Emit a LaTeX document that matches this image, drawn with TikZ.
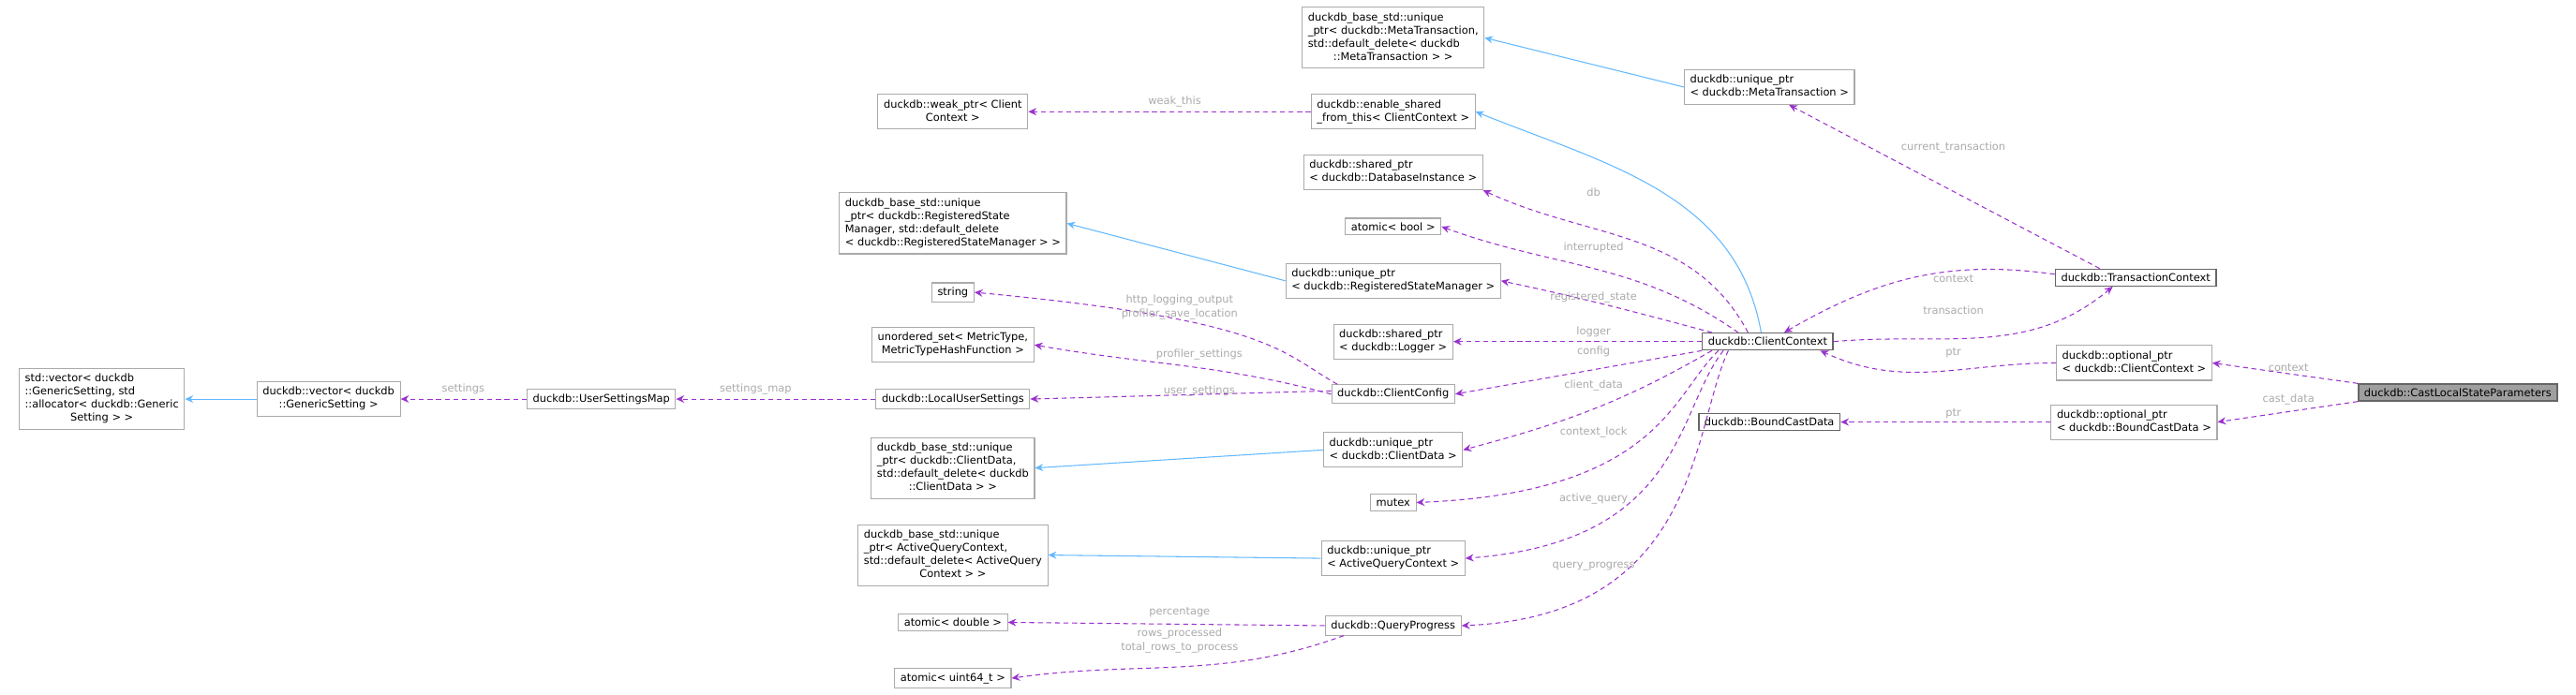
\documentclass[tikz,border=0pt]{standalone}
\usepackage{fontspec}
\setmainfont{DejaVu Sans}
\usetikzlibrary{arrows.meta}
\definecolor{mem}{HTML}{9A32CD}
\definecolor{inh}{HTML}{63B8FF}
\definecolor{bord}{HTML}{AAAAAA}
\definecolor{dbord}{HTML}{666666}
\definecolor{lab}{HTML}{AAAAAA}
\newcommand{\ml}[2]{\begin{tabular}{@{}l@{}}#1\\\multicolumn{1}{@{}c@{}}{#2}\end{tabular}}
\begin{document}
\begin{tikzpicture}[x=1pt,y=-1pt,
  every node/.style={font=\fontsize{6.5}{8.4}\selectfont},
  n/.style={draw=bord,line width=0.6pt,fill=white,inner xsep=3.5pt,inner ysep=2.6pt,align=center},
  k/.style={n,draw=dbord,line width=0.8pt},
  lb/.style={text=lab,inner sep=0.5pt,align=center},
  m/.style={draw=mem,dashed,dash pattern=on 3pt off 2.2pt,line width=0.6pt,-{Stealth[length=5pt,width=4.5pt]}},
  ih/.style={draw=inh,line width=0.6pt,-{Stealth[length=5pt,width=4.5pt]}}]
\useasboundingbox (0,0) rectangle (1568,423);
\renewcommand{\arraystretch}{0.95}
% left side
\node[n] (vecstd) at (62,243) {\ml{std::vector< duckdb\\::GenericSetting, std\\::allocator< duckdb::Generic}{Setting > >}};
\node[n] (vecdk) at (200,243) {\ml{duckdb::vector< duckdb}{::GenericSetting >}};
\node[n] (usm) at (366,243) {duckdb::UserSettingsMap};
\node[n] (lus) at (580,243) {duckdb::LocalUserSettings};
\node[n] (str) at (580,178) {string};
\node[n] (uset) at (580,210) {\ml{unordered\_set< MetricType,}{MetricTypeHashFunction >}};
\node[n] (regb) at (580,136) {\ml{duckdb\_base\_std::unique\\\_ptr< duckdb::RegisteredState\\Manager, std::default\_delete}{< duckdb::RegisteredStateManager > >}};
\node[n] (cdb) at (580,285) {\ml{duckdb\_base\_std::unique\\\_ptr< duckdb::ClientData,\\std::default\_delete< duckdb}{::ClientData > >}};
\node[n] (aqb) at (580,338) {\ml{duckdb\_base\_std::unique\\\_ptr< ActiveQueryContext,\\std::default\_delete< ActiveQuery}{Context > >}};
\node[n] (adbl) at (580,379) {atomic< double >};
\node[n] (au64) at (580,413) {atomic< uint64\_t >};
\node[n] (weak) at (580,68) {\ml{duckdb::weak\_ptr< Client}{Context >}};
% middle column
\node[n] (metab) at (848,23) {\ml{duckdb\_base\_std::unique\\\_ptr< duckdb::MetaTransaction,\\std::default\_delete< duckdb}{::MetaTransaction > >}};
\node[n] (ens) at (848,68) {\ml{duckdb::enable\_shared}{\_from\_this< ClientContext >}};
\node[n] (sdb) at (848,105) {\ml{duckdb::shared\_ptr}{< duckdb::DatabaseInstance >}};
\node[n] (abool) at (848,138) {atomic< bool >};
\node[n] (rsm) at (848,171) {\ml{duckdb::unique\_ptr}{< duckdb::RegisteredStateManager >}};
\node[n] (slog) at (848,208) {\ml{duckdb::shared\_ptr}{< duckdb::Logger >}};
\node[n] (ccfg) at (848,240) {duckdb::ClientConfig};
\node[n] (ucd) at (848,274) {\ml{duckdb::unique\_ptr}{< duckdb::ClientData >}};
\node[n] (mtx) at (848,306) {mutex};
\node[n] (uaq) at (848,340) {\ml{duckdb::unique\_ptr}{< ActiveQueryContext >}};
\node[n] (qp) at (848,381) {duckdb::QueryProgress};
% right
\node[n] (umeta) at (1077,53) {\ml{duckdb::unique\_ptr}{< duckdb::MetaTransaction >}};
\node[k] (cc) at (1076,208) {duckdb::ClientContext};
\node[k] (bcd) at (1077,257) {duckdb::BoundCastData};
\node[k] (tc) at (1300,169) {duckdb::TransactionContext};
\node[n] (occ) at (1299,221) {\ml{duckdb::optional\_ptr}{< duckdb::ClientContext >}};
\node[n] (obcd) at (1299,257) {\ml{duckdb::optional\_ptr}{< duckdb::BoundCastData >}};
\node[k,fill=gray!75] (clsp) at (1496,239) {duckdb::CastLocalStateParameters};
% inheritance
\draw[ih] (vecdk) -- (vecstd);
\draw[ih] (rsm.west) -- (regb.east);
\draw[ih] (ucd.west) -- (cdb.east);
\draw[ih] (uaq.west) -- (aqb.east);
\draw[ih] (umeta.west) -- (metab.east);
\draw[ih] ([xshift=-4pt]cc.north) to[out=100,in=-22] (ens.east);
% members
\draw[m] (usm) -- (vecdk);
\node[lb] at (282,237) {settings};
\draw[m] (lus) -- (usm);
\node[lb] at (460,237) {settings\_map};
\draw[m] (ens) -- (weak);
\node[lb] at (715,62) {weak\_this};
\draw[m] ([xshift=-34pt]ccfg.north) .. controls (780,215) and (775,195) .. (str.east);
\node[lb] at (718,187) {http\_logging\_output\\profiler\_save\_location};
\draw[m] (ccfg.west) to[out=165,in=-10] (uset.east);
\node[lb] at (730,216) {profiler\_settings};
\draw[m] ([yshift=2pt]ccfg.west) -- (lus.east);
\node[lb] at (730,238) {user\_settings};
\draw[m] (qp.west) -- (adbl.east);
\node[lb] at (718,373) {percentage};
\draw[m] ([xshift=-30pt]qp.south) to[out=-160,in=8] (au64.east);
\node[lb] at (718,390) {rows\_processed\\total\_rows\_to\_process};
\draw[m] ([xshift=-12pt]cc.north) to[out=118,in=-25] (sdb.south east);
\node[lb] at (970,117) {db};
\draw[m] ([xshift=-18pt]cc.north) to[out=145,in=-20] (abool.east);
\node[lb] at (970,151) {interrupted};
\draw[m] ([xshift=-34pt]cc.north) to[out=165,in=-12] (rsm.east);
\node[lb] at (970,181) {registered\_state};
\draw[m] (cc.west) -- (slog.east);
\node[lb] at (970,202) {logger};
\draw[m] (cc.south west) -- (ccfg.east);
\node[lb] at (970,214) {config};
\draw[m] ([xshift=-34pt]cc.south) to[out=-150,in=15] (ucd.east);
\node[lb] at (970,235) {client\_data};
\draw[m] ([xshift=-30pt]cc.south) .. controls (1018,240) and (1010,300) .. (mtx.east);
\node[lb] at (970,263) {context\_lock};
\draw[m] ([xshift=-27pt]cc.south) .. controls (1020,250) and (1025,330) .. (uaq.east);
\node[lb] at (970,304) {active\_query};
\draw[m] ([xshift=-24pt]cc.south) .. controls (1030,260) and (1035,375) .. (qp.east);
\node[lb] at (970,345) {query\_progress};
\draw[m] ([xshift=-22pt]tc.north) -- ([xshift=12pt]umeta.south);
\node[lb] at (1189,90) {current\_transaction};
\draw[m] ([yshift=2pt]tc.west) to[out=172,in=30] ([xshift=10pt]cc.north);
\node[lb] at (1189,170) {context};
\draw[m] (cc.east) to[out=5,in=-140] ([xshift=-14pt]tc.south);
\node[lb] at (1189,189) {transaction};
\draw[m] (occ.west) to[out=180,in=-25] ([xshift=32pt]cc.south);
\node[lb] at (1189,215) {ptr};
\draw[m] (obcd.west) -- (bcd.east);
\node[lb] at (1189,252) {ptr};
\draw[m] (clsp.north west) -- (occ.east);
\node[lb] at (1393,224) {context};
\draw[m] (clsp.south west) -- (obcd.east);
\node[lb] at (1393,243) {cast\_data};
\end{tikzpicture}
\end{document}
